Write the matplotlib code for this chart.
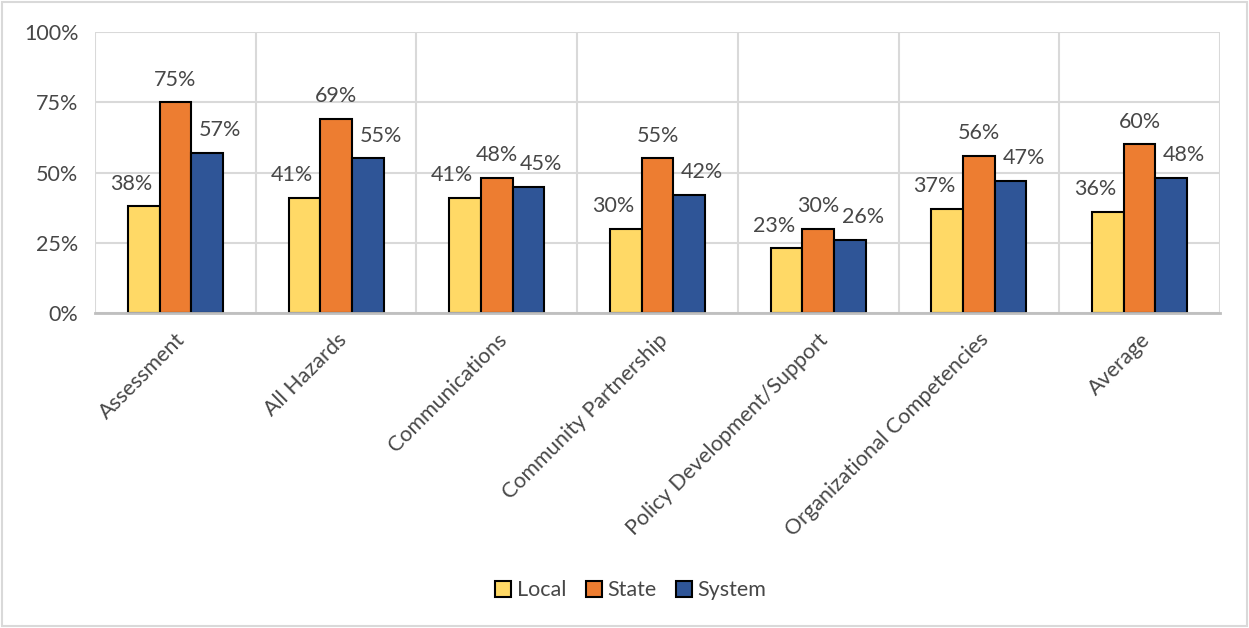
import matplotlib.pyplot as plt
import numpy as np
from matplotlib.patches import Rectangle
from matplotlib.ticker import FixedLocator

categories = ["Assessment", "All Hazards", "Communications", "Community Partnership",
              "Policy Development/Support", "Organizational Competencies", "Average"]
local = [38, 41, 41, 30, 23, 37, 36]
state = [75, 69, 48, 55, 30, 56, 60]
system = [57, 55, 45, 42, 26, 47, 48]

series = [("Local", local, "#FFD966"), ("State", state, "#ED7D31"), ("System", system, "#2F5597")]

plt.rcParams["font.family"] = ["Lato", "DejaVu Sans"]
txt = "#474747"
fs = 15.5

fig = plt.figure(figsize=(12.49, 6.28), dpi=100)
ax = fig.add_axes([0.0761, 0.5016, 0.9007, 0.4474])

x = np.arange(len(categories))
w = 0.197
offsets = [-w, 0, w]
label_shift = [-0.08, 0, 0.08]

for (name, vals, col), off, sh in zip(series, offsets, label_shift):
    bars = ax.bar(x + off, vals, w, color=col, edgecolor="black", linewidth=1.5, label=name, zorder=3)
    for b, v in zip(bars, vals):
        ax.text(b.get_x() + b.get_width() / 2 + sh, v + 4.5, f"{v}%", ha="center", va="bottom",
                fontsize=fs, color=txt)

ax.set_xlim(-0.5, len(categories) - 0.5)
ax.set_ylim(0, 100)
ax.set_yticks([0, 25, 50, 75, 100])
ax.set_yticklabels([f"{t}%" for t in [0, 25, 50, 75, 100]], fontsize=fs, color=txt)
ax.set_xticks(x)
ax.set_xticklabels(categories, rotation=45, ha="right", rotation_mode="anchor", fontsize=fs, color=txt)
ax.tick_params(axis="y", length=0, pad=12)
ax.tick_params(axis="x", length=0, pad=12)

ax.xaxis.set_minor_locator(FixedLocator(np.arange(-0.5, len(categories), 1.0)))
ax.grid(axis="y", color="#D9D9D9", linewidth=1.5, zorder=0)
ax.grid(axis="x", which="minor", color="#D9D9D9", linewidth=1.5, zorder=0)
ax.tick_params(which="minor", length=0)

for s in ["top", "right", "left"]:
    ax.spines[s].set_visible(False)
ax.spines["bottom"].set_color("#BFBFBF")
ax.spines["bottom"].set_linewidth(2)
ax.spines["bottom"].set_zorder(4)

leg = fig.legend(loc="center", bbox_to_anchor=(0.505, 0.06), ncol=3, frameon=False, fontsize=fs,
                 handlelength=0.75, handleheight=0.75, handletextpad=0.25, columnspacing=0.9)
for t in leg.get_texts():
    t.set_color(txt)

fig.patches.append(Rectangle((0.002, 0.003), 0.996, 0.994, transform=fig.transFigure,
                             fill=False, edgecolor="#D9D9D9", linewidth=1.5))

fig.savefig("out.png", dpi=100)
